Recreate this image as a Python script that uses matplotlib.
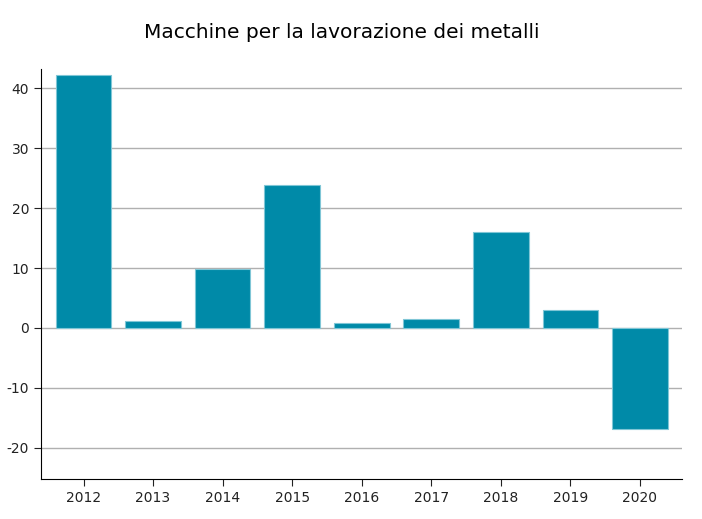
import matplotlib
import matplotlib.pyplot as plt

matplotlib.use('Agg')
plt.rcParams['axes.unicode_minus'] = False

# Data
years = ['2012', '2013', '2014', '2015', '2016', '2017', '2018', '2019', '2020']
values = [42.2, 1.2, 9.8, 23.9, 0.9, 1.5, 16.0, 3.0, -16.8]

fig = plt.figure(figsize=(7.02, 5.19), dpi=100)
ax = fig.add_axes([41 / 702, 1 - 479 / 519, (682 - 41) / 702, (479 - 69) / 519])

x = range(len(years))
ax.bar(x, values, width=0.8, color='#008aa8', edgecolor='#7fc6d6', linewidth=0.8, zorder=2)

ax.set_xlim(-0.611, 8.604)
ax.set_ylim(-25.2, 43.2)
ax.set_xticks(list(x))
ax.set_xticklabels(years)
ax.set_yticks([-20, -10, 0, 10, 20, 30, 40])
ax.yaxis.grid(True, color='#b0b0b0', linewidth=1, zorder=0)
ax.set_axisbelow(True)

for side in ['top', 'right']:
    ax.spines[side].set_visible(False)
ax.tick_params(labelsize=10, colors='#222222', length=5)

fig.text(342 / 702, 1 - 33 / 519, 'Macchine per la lavorazione dei metalli', ha='center', va='center',
         fontsize=14.5)

fig.savefig('out.png', dpi=100)
